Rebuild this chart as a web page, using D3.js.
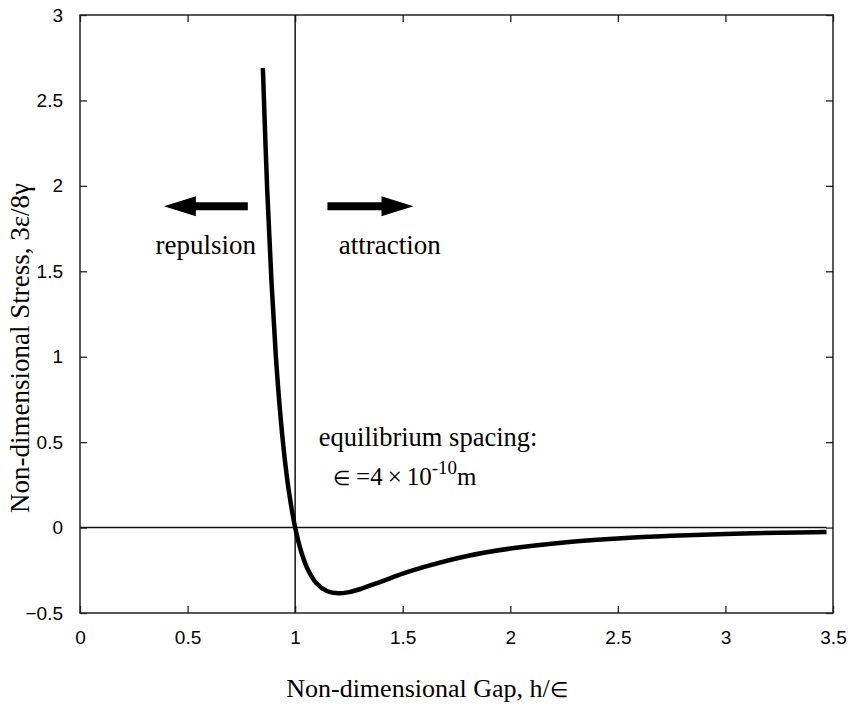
<!DOCTYPE html>
<html>
<head>
<meta charset="UTF-8">
<title>Non-dimensional stress</title>
<style>
  body { margin: 0; background: #fff; }
  .tick text { font-family: "Liberation Sans", Arial, sans-serif; font-size: 19px; fill: #000; }
  .serif { font-family: "Liberation Serif", "Times New Roman", serif; fill: #000; }
</style>
</head>
<body>
<div id="chart"></div>
<script src="https://cdn.jsdelivr.net/npm/d3@7"></script>
<script>
// data
var gap = [0.85, 0.87, 0.89, 0.91, 0.93, 0.95, 0.97, 1.0, 1.03, 1.06, 1.1, 1.15, 1.2, 1.25, 1.3, 1.4, 1.5, 1.6, 1.8, 2.0, 2.25, 2.5, 2.75, 3.0, 3.25, 3.47];
var stress = [2.69, 1.98, 1.44, 1.01, 0.68, 0.42, 0.22, 0, -0.149, -0.248, -0.327, -0.373, -0.385, -0.378, -0.361, -0.316, -0.270, -0.230, -0.166, -0.123, -0.087, -0.064, -0.048, -0.037, -0.030, -0.026];
var xTicks = [0, 0.5, 1, 1.5, 2, 2.5, 3, 3.5];
var yTicks = [-0.5, 0, 0.5, 1, 1.5, 2, 2.5, 3];

var width = 852, height = 711;
var m = {left: 80, right: 19, top: 15, bottom: 98};
var w = width - m.left - m.right, h = height - m.top - m.bottom;

var svg = d3.select("#chart").append("svg")
  .attr("width", width).attr("height", height);
var g = svg.append("g").attr("transform", "translate(" + m.left + "," + m.top + ")");

var x = d3.scaleLinear().domain([0, 3.5]).range([0, w]);
var y = d3.scaleLinear().domain([-0.5, 3]).range([h, 0]);
var fmt = d3.format("");

// axes, ticks pointing inward
g.append("g").attr("transform", "translate(0," + h + ")")
  .call(d3.axisBottom(x).tickValues(xTicks).tickFormat(fmt).tickSizeInner(-7).tickSizeOuter(0).tickPadding(18));
g.append("g")
  .call(d3.axisLeft(y).tickValues(yTicks).tickFormat(fmt).tickSizeInner(-7).tickSizeOuter(0).tickPadding(17));
g.append("g")
  .call(d3.axisTop(x).tickValues(xTicks).tickFormat("").tickSizeInner(-7).tickSizeOuter(0));
g.append("g").attr("transform", "translate(" + w + ",0)")
  .call(d3.axisRight(y).tickValues(yTicks).tickFormat("").tickSizeInner(-7).tickSizeOuter(0));
g.selectAll(".domain").remove();
g.selectAll(".tick line").attr("stroke", "#222").attr("stroke-width", 1.3);

g.append("rect").attr("width", w).attr("height", h)
  .attr("fill", "none").attr("stroke", "#222").attr("stroke-width", 1.5);

// reference lines at stress = 0 and gap = 1
g.append("line").attr("x1", 0).attr("x2", x(3.47)).attr("y1", y(0)).attr("y2", y(0))
  .attr("stroke", "#111").attr("stroke-width", 1.5);
g.append("line").attr("x1", x(1)).attr("x2", x(1)).attr("y1", 0).attr("y2", h)
  .attr("stroke", "#111").attr("stroke-width", 1.5);

// stress curve
var pts = gap.map(function(d, i) { return [d, stress[i]]; });
g.append("path").datum(pts)
  .attr("fill", "none").attr("stroke", "#000").attr("stroke-width", 4.5)
  .attr("d", d3.line().x(function(d) { return x(d[0]); }).y(function(d) { return y(d[1]); }).curve(d3.curveCatmullRom));

// arrows
function arrow(x0, x1, yv) {
  var a = x(x0), b = x(x1), yy = y(yv);
  var dir = b > a ? 1 : -1, head = 32;
  g.append("line").attr("x1", a).attr("x2", b - dir * head + dir * 2).attr("y1", yy).attr("y2", yy)
    .attr("stroke", "#000").attr("stroke-width", 8);
  g.append("path")
    .attr("d", "M" + b + "," + yy + "L" + (b - dir * head) + "," + (yy - 10) + "L" + (b - dir * head) + "," + (yy + 10) + "Z")
    .attr("fill", "#000");
}
arrow(0.78, 0.39, 1.88);
arrow(1.15, 1.55, 1.88);

g.append("text").attr("class", "serif").attr("x", x(0.585)).attr("y", y(1.6))
  .attr("text-anchor", "middle").attr("font-size", 27).text("repulsion");
g.append("text").attr("class", "serif").attr("x", x(1.44)).attr("y", y(1.6))
  .attr("text-anchor", "middle").attr("font-size", 27).text("attraction");

g.append("text").attr("class", "serif").attr("x", x(1.11)).attr("y", y(0.48))
  .attr("font-size", 26.5).text("equilibrium spacing:");
var t2 = g.append("text").attr("class", "serif").attr("x", x(1.175)).attr("y", y(0.25))
  .attr("font-size", 25);
t2.append("tspan").attr("font-size", 20).text("\u2208");
t2.append("tspan").text(" =4\u2009\u00d7\u200910");
t2.append("tspan").attr("dy", -11).attr("font-size", 19).text("-10");
t2.append("tspan").attr("dy", 11).text("m");

// axis titles
var xt = svg.append("text").attr("class", "serif").attr("x", 427).attr("y", 697)
  .attr("text-anchor", "middle").attr("font-size", 26);
xt.append("tspan").text("Non-dimensional Gap, h/");
xt.append("tspan").attr("font-size", 21).text("\u2208");
svg.append("text").attr("class", "serif")
  .attr("transform", "translate(29,348) rotate(-90)")
  .attr("text-anchor", "middle").attr("font-size", 27).text("Non-dimensional Stress, 3\u03b5/8\u03b3");
</script>
</body>
</html>
